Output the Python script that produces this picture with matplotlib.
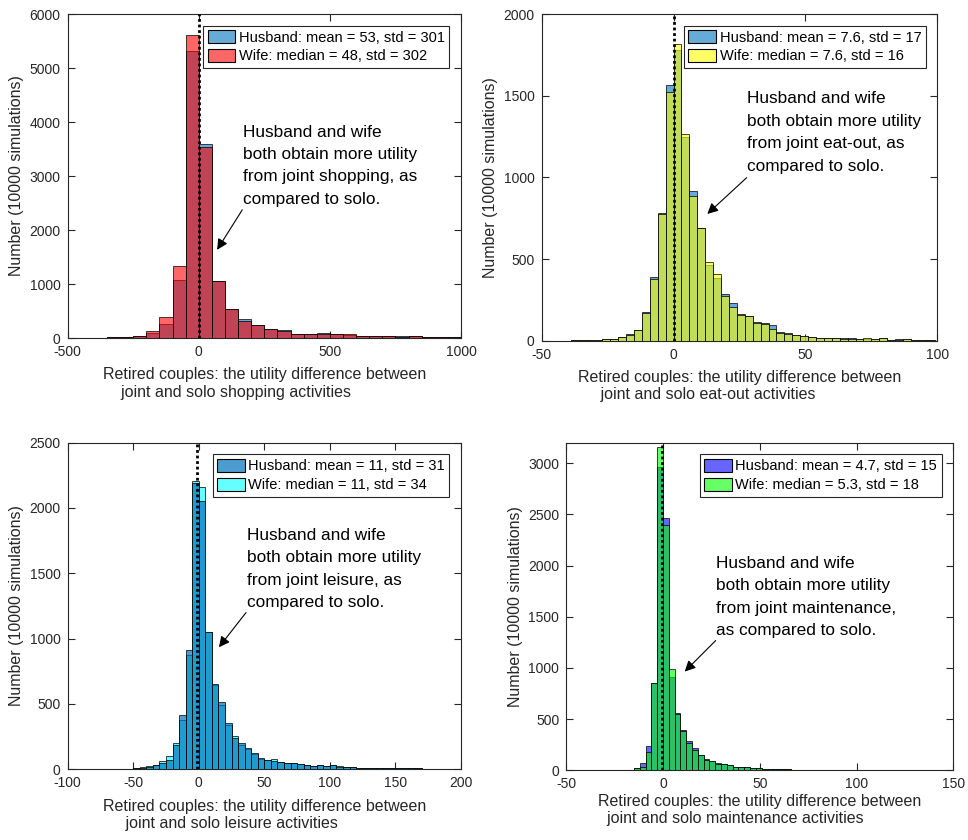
import matplotlib.pyplot as plt
from matplotlib.patches import Patch

plt.rcParams['font.family'] = ['Liberation Sans', 'DejaVu Sans']
plt.rcParams['axes.unicode_minus'] = False

# ---- shopping: bins of 50 starting at -350
shop_start, shop_bw = -350, 50
shop_husband = [15, 20, 40, 92, 262, 1067, 5320, 3600, 1065, 545, 358, 240, 166, 145,
                70, 80, 85, 70, 50, 45, 40, 38, 32, 30, 20, 15, 15]
shop_wife = [12, 15, 38, 136, 388, 1325, 5620, 3530, 1060, 535, 314, 232, 160, 138,
             80, 78, 80, 75, 70, 40, 38, 35, 28, 35, 18, 12, 12]

# ---- eat-out: bins of 3 starting at -39
eat_start, eat_bw = -39, 3
eat_husband = [2, 3, 3, 5, 8, 10, 20, 40, 65, 175, 390, 782, 1567, 1780, 1249, 918, 690,
               463, 385, 286, 229, 163, 153, 114, 108, 96, 51, 45, 37, 31, 24, 18, 18, 16,
               18, 14, 8, 13, 8, 15, 6, 8, 8, 5, 4, 6]
eat_wife = [2, 2, 3, 5, 8, 12, 20, 35, 65, 172, 380, 775, 1524, 1814, 1263, 884, 688,
            484, 406, 273, 208, 160, 150, 110, 105, 71, 50, 44, 36, 30, 23, 17, 17, 15,
            12, 13, 8, 14, 8, 16, 6, 7, 8, 6, 4, 5]

# ---- leisure: bins of 5 starting at -75
leis_start, leis_bw = -75, 5
leis_husband = [2, 2, 3, 3, 4, 6, 12, 20, 30, 50, 72, 186, 413, 913, 2195, 2054, 1054, 652,
                513, 352, 237, 199, 160, 122, 84, 71, 64, 59, 51, 46, 38, 33, 28, 33, 25,
                33, 20, 17, 15, 10, 9, 8, 8, 7, 10, 6, 6, 7, 6, 5, 5, 3, 3, 5, 2]
leis_wife = [2, 2, 3, 4, 4, 8, 14, 22, 32, 60, 102, 204, 378, 875, 2210, 2163, 1050, 648,
             492, 340, 255, 186, 158, 120, 82, 70, 77, 58, 50, 45, 37, 32, 28, 30, 25,
             30, 22, 15, 15, 12, 10, 9, 7, 8, 8, 6, 7, 6, 6, 5, 4, 3, 2, 4, 2]

# ---- maintenance: bins of 3 starting at -27
main_start, main_bw = -27, 3
main_husband = [2, 3, 4, 6, 20, 68, 238, 850, 2958, 2469, 915, 563, 391, 283, 215, 153,
                107, 95, 68, 59, 49, 36, 33, 29, 26, 23, 16, 13, 10, 9, 8, 7, 7, 6, 5, 7,
                5, 4, 4, 2, 2, 3, 3, 2, 2, 3, 2, 2, 1]
main_wife = [2, 3, 3, 5, 18, 36, 182, 850, 3156, 2394, 987, 550, 385, 264, 199, 150,
             105, 93, 66, 58, 48, 35, 32, 28, 25, 22, 15, 12, 10, 9, 8, 6, 6, 6, 6, 7,
             5, 4, 4, 2, 2, 3, 2, 2, 2, 3, 2, 2, 1]

panels = [
    dict(rect=[0.0699, 0.5976, 0.4063, 0.3857], start=shop_start, bw=shop_bw,
         h=shop_husband, w=shop_wife, hc=(0, 0.447, 0.741), wc=(1, 0, 0), wife_top=True,
         halpha=0.6, xlim=(-500, 1000), xt=[-500, 0, 500, 1000], ylim=(0, 6000),
         yt=range(0, 6001, 1000), vx=0,
         leg=['Husband: mean = 53, std = 301', 'Wife: median = 48, std = 302'],
         note='Husband and wife\nboth obtain more utility\nfrom joint shopping, as\ncompared to solo.',
         note_xy=(168, 2485), tail=(166, 2374), head=(70, 1634),
         xl='Retired couples: the utility difference between\n    joint and solo shopping activities',
         lp=6),
    dict(rect=[0.5596, 0.5944, 0.4087, 0.3889], start=eat_start, bw=eat_bw,
         h=eat_husband, w=eat_wife, hc=(0, 0.447, 0.741), wc=(1, 1, 0), wife_top=True,
         halpha=0.6, xlim=(-50, 100), xt=[-50, 0, 50, 100], ylim=(0, 2000),
         yt=range(0, 2001, 500), vx=0.3,
         leg=['Husband: mean = 7.6, std = 17', 'Wife: median = 7.6, std = 16'],
         note='Husband and wife\nboth obtain more utility\nfrom joint eat-out, as\ncompared to solo.',
         note_xy=(28, 1041), tail=(27.7, 998), head=(12.8, 776),
         xl='Retired couples: the utility difference between\n     joint and solo eat-out activities',
         lp=6),
    dict(rect=[0.0699, 0.0842, 0.4063, 0.3888], start=leis_start, bw=leis_bw,
         h=leis_husband, w=leis_wife, hc=(0, 0.447, 0.741), wc=(0, 1, 1), wife_top=False,
         halpha=0.7, xlim=(-100, 200), xt=range(-100, 201, 50), ylim=(0, 2500),
         yt=range(0, 2501, 500), vx=-1.5,
         leg=['Husband: mean = 11, std = 31', 'Wife: median = 11, std = 34'],
         note='Husband and wife\nboth obtain more utility\nfrom joint leisure, as\ncompared to solo.',
         note_xy=(36.5, 1240), tail=(36, 1199), head=(15.4, 934),
         xl='Retired couples: the utility difference between\n     joint and solo leisure activities',
         lp=6),
    dict(rect=[0.5850, 0.0830, 0.3998, 0.3900], start=main_start, bw=main_bw,
         h=main_husband, w=main_wife, hc=(0, 0, 1), wc=(0, 1, 0), wife_top=True,
         halpha=0.6, xlim=(-50, 150), xt=range(-50, 151, 50), ylim=(0, 3200),
         yt=range(0, 3001, 500), vx=-0.4,
         leg=['Husband: mean = 4.7, std = 15', 'Wife: median = 5.3, std = 18'],
         note='Husband and wife\nboth obtain more utility\nfrom joint maintenance,\nas compared to solo.',
         note_xy=(27.5, 1319), tail=(27.2, 1267), head=(11.2, 964),
         xl='Retired couples: the utility difference between\n  joint and solo maintenance activities',
         lp=2),
]

fig = plt.figure(figsize=(9.68, 8.4), dpi=100)

for p in panels:
    ax = fig.add_axes(p['rect'])
    lefts_h = [p['start'] + i * p['bw'] for i in range(len(p['h']))]
    lefts_w = [p['start'] + i * p['bw'] for i in range(len(p['w']))]
    hface = (*p['hc'], p['halpha'])
    wface = (*p['wc'], 0.6)
    zh, zw = (2, 3) if p['wife_top'] else (3, 2)
    ax.bar(lefts_h, p['h'], width=p['bw'], align='edge', color=hface,
           edgecolor=(0, 0, 0, 0.85), linewidth=0.6, zorder=zh)
    ax.bar(lefts_w, p['w'], width=p['bw'], align='edge', color=wface,
           edgecolor=(0, 0, 0, 0.85), linewidth=0.6, zorder=zw)
    ax.plot([p['vx'], p['vx']], [0, p['ylim'][1]], color='k', lw=2.0,
            linestyle=(0, (1, 1)), zorder=5)

    ax.set_xlim(*p['xlim'])
    ax.set_ylim(*p['ylim'])
    ax.set_xticks(list(p['xt']))
    ax.set_yticks(list(p['yt']))
    ax.tick_params(direction='in', top=True, right=True, length=5, width=0.8,
                   labelsize=10, color='0.15', labelcolor='0.15', pad=5)
    for s in ax.spines.values():
        s.set_color('0.15')
        s.set_linewidth(0.8)

    handles = [Patch(facecolor=hface, edgecolor='k', linewidth=0.8),
               Patch(facecolor=wface, edgecolor='k', linewidth=0.8)]
    leg = ax.legend(handles, p['leg'], loc='upper right', fontsize=10.5, fancybox=False,
                    edgecolor='0.15', framealpha=1, borderaxespad=0.8, handlelength=1.9,
                    handleheight=1.0, handletextpad=0.25, labelspacing=0.3, borderpad=0.3)
    leg.get_frame().set_linewidth(0.8)
    leg.set_zorder(6)

    # annotation: y is the baseline of the last line
    ax.text(p['note_xy'][0], p['note_xy'][1], p['note'], fontsize=12.4, ha='left',
            va='baseline', linespacing=1.62, color='k', zorder=6)
    ax.annotate('', xy=p['head'], xytext=p['tail'],
                arrowprops=dict(arrowstyle='-|>', color='k', lw=0.8, mutation_scale=16,
                                shrinkA=0, shrinkB=0), zorder=6)

    ax.set_xlabel(p['xl'], fontsize=11.5, color='0.15', multialignment='left',
                  labelpad=p['lp'])
    ax.set_ylabel('Number (10000 simulations)', fontsize=11.5, color='0.15', labelpad=4)

fig.savefig('out.png', dpi=100)
